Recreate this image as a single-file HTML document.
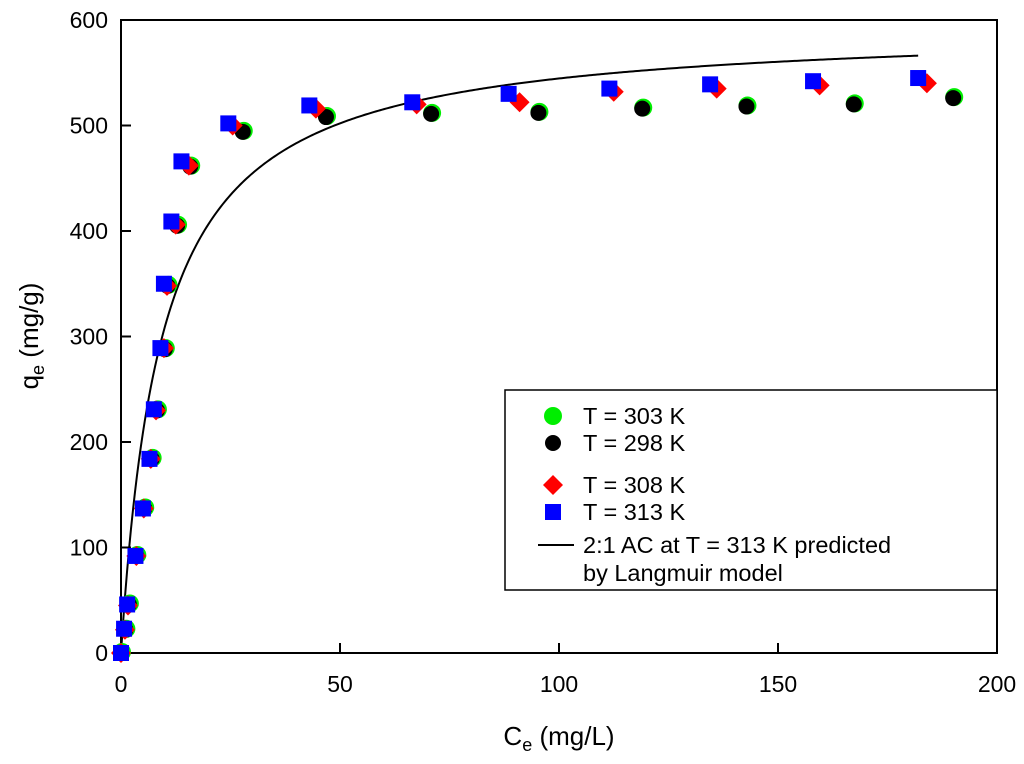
<!DOCTYPE html>
<html><head><meta charset="utf-8"><style>
body{margin:0;background:#fff;}
svg{font-family:"Liberation Sans",Arial,sans-serif;}
</style></head><body>
<svg id="chart" width="1024" height="759" xmlns="http://www.w3.org/2000/svg"></svg>
<script>
const xTicks=[0,50,100,150,200];
const yTicks=[0,100,200,300,400,500,600];
const x313=[0,0.7,1.4,3.3,5,6.5,7.5,9,9.8,11.5,13.8,24.5,43,66.5,88.5,111.5,134.5,158,182];
const y313=[0,23,46,92,137,184,231,289,350,409,466,502,519,522,530,535,539,542,545];
const x308=[0,0.9,1.6,3.5,5.2,6.8,8,9.8,10.5,12.5,15.5,25.5,44.5,67.5,91,112.5,136,159.5,184];
const y308=[0,22,45,92,137,184,230,289,348,406,462,500,516,520,522,532,535,538,540];
const x298=[0,1,1.8,3.5,5.3,7,8.2,10,10.6,12.8,15.8,27.8,46.8,70.8,95.3,119,142.8,167.3,190];
const y298=[0,22,46,92,137,184,230,288,348,405,461,494,508,511,512,516,518,520,526];
const x303=[0,1,1.8,3.5,5.3,7,8.2,10,10.6,12.8,15.8,27.8,46.8,70.8,95.3,119,142.8,167.3,190];
const y303=[0,22,46,92,137,184,230,288,348,405,461,494,508,511,512,516,518,520,526];
const langmuirQm=595, langmuirK=0.108, langmuirCmax=182;

const svg=document.getElementById('chart');
const NS='http://www.w3.org/2000/svg';
const X0=121,X1=997,Y0=653,Y1=20;
const sx=v=>X0+(v-0)/(200-0)*(X1-X0);
const sy=v=>Y0-(v-0)/(600-0)*(Y0-Y1);
function mk(tag,attrs,parent){const e=document.createElementNS(NS,tag);for(const k in attrs)e.setAttribute(k,attrs[k]);(parent||svg).appendChild(e);return e;}

const ax=mk('path',{d:`M${X0},${Y1}H${X1}V${Y0}H${X0}Z`,fill:'none',stroke:'#000','stroke-width':2});


xTicks.forEach(t=>{
  const l=mk('line',{x1:sx(t),x2:sx(t),y1:Y0,y2:Y0-10,stroke:'#000','stroke-width':2});
  
  
  const tx=mk('text',{x:sx(t),y:Y0+39,'text-anchor':'middle','font-size':23});
  tx.textContent=t;
  
  
});
yTicks.forEach(t=>{
  const l=mk('line',{x1:X0,x2:X0+10,y1:sy(t),y2:sy(t),stroke:'#000','stroke-width':2});
  
  
  const tx=mk('text',{x:108,y:sy(t)+8,'text-anchor':'end','font-size':23});
  tx.textContent=t;
  
  
});
const xt=mk('text',{x:559,y:745,'text-anchor':'middle','font-size':26});
xt.innerHTML='C<tspan font-size="18" dy="6">e</tspan><tspan dy="-6"> (mg/L)</tspan>';


const yt=mk('text',{x:0,y:0,'text-anchor':'middle','font-size':26,transform:'translate(38,336) rotate(-90)'});
yt.innerHTML='q<tspan font-size="18" dy="6">e</tspan><tspan dy="-6"> (mg/g)</tspan>';



let d='';
for(let i=0;i<=400;i++){const c=langmuirCmax*i/400;const q=langmuirQm*langmuirK*c/(1+langmuirK*c);d+=(i?'L':'M')+sx(c).toFixed(2)+','+sy(q).toFixed(2);}
const cur=mk('path',{d,fill:'none',stroke:'#000','stroke-width':2});



function circle(cx,cy,fill,r){return mk('circle',{cx,cy,r,fill});}
function diamond(cx,cy){return mk('path',{d:`M${cx},${cy-10}L${cx+10},${cy}L${cx},${cy+10}L${cx-10},${cy}Z`,fill:'#ff0000'});}
function square(cx,cy){return mk('rect',{x:cx-8,y:cy-8,width:16,height:16,fill:'#0000ff'});}

x303.forEach((v,i)=>{const e=circle(sx(v)+1,sy(y303[i])-1,'#00ee00',9);
  
  });
x298.forEach((v,i)=>{const e=circle(sx(v),sy(y298[i]),'#000',8);
  
  });
x308.forEach((v,i)=>{const e=diamond(sx(v),sy(y308[i]));
  
  });
x313.forEach((v,i)=>{const e=square(sx(v),sy(y313[i]));
  
  });

const lg=mk('g',{});


mk('rect',{x:505,y:390,width:492,height:200,fill:'#fff',stroke:'#000','stroke-width':1.5},lg);
const entries=[['T = 303 K',416],['T = 298 K',443],['T = 308 K',485],['T = 313 K',512]];
let e;
e=circle(553,416,'#00ee00',9);lg.appendChild(e);
e=circle(553,443,'#000',8);lg.appendChild(e);
e=diamond(553,485);lg.appendChild(e);
e=square(553,512);lg.appendChild(e);
entries.forEach(([t,y])=>{const tx=mk('text',{x:583,y:y+8,'font-size':23.5},lg);tx.textContent=t;
  
  });
mk('line',{x1:538,x2:574,y1:545,y2:545,stroke:'#000','stroke-width':2},lg);
const t1=mk('text',{x:583,y:553,'font-size':23.5},lg);t1.textContent='2:1 AC at T = 313 K predicted';


const t2=mk('text',{x:583,y:581,'font-size':23.5},lg);t2.textContent='by Langmuir model';


</script>
</body></html>
